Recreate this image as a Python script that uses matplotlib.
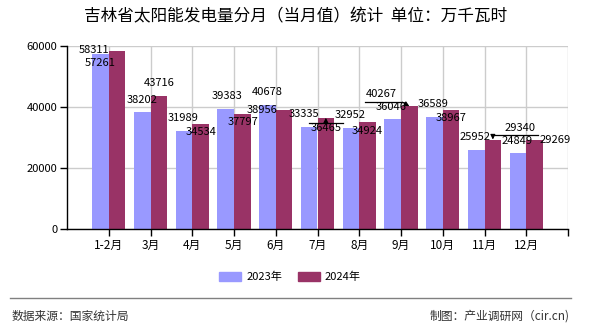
import matplotlib
matplotlib.use("Agg")
import matplotlib.pyplot as plt
import numpy as np
from matplotlib.lines import Line2D
from matplotlib.patches import Patch
from matplotlib.transforms import IdentityTransform

plt.rcParams['font.family'] = ['Noto Sans CJK SC', 'DejaVu Sans']

# ---- data ----
categories = ['1-2月', '3月', '4月', '5月', '6月', '7月', '8月', '9月', '10月', '11月', '12月']
series_names = ['2023年', '2024年']
values_2023 = [57261, 38202, 31989, 39383, 40678, 33335, 32952, 36046, 36589, 25952, 24849]
values_2024 = [58311, 43716, 34534, 37797, 38956, 36465, 34924, 40267, 38967, 29340, 29269]
yticks = [0, 20000, 40000, 60000]

# label offsets (pixels) from bar top centre, as arranged in the reference
off_2023 = [(0, -9), (0, 12), (-1, 13), (1, 13), (0, 13), (-5, 13), (-1, 13),
            (-1, 12), (-1, 13), (-1, 13), (-1, 12)]
off_2024 = [(-23, 1), (0, 13), (0, -8), (1, -8), (-22, 0), (0, -10), (0, -9),
            (-28, 12), (0, -8), (27, 12), (21, 0)]
# leader lines: index in 2024 series -> (line dy, x from, x to) relative pixels
leaders_2024 = {5: (-5, -17, 17), 7: (4, -44, -7), 9: (5, 0, 45)}

c2023 = '#9999FF'
c2024 = '#993366'

W, H = 590, 330
fig = plt.figure(figsize=(W / 100, H / 100), dpi=100)
ax = fig.add_axes([67 / W, 1 - 229 / H, (568 - 67) / W, (229 - 46) / H])

x = np.arange(len(categories))
bw = 0.4
ax.bar(x - bw / 2, values_2023, width=bw, color=c2023, zorder=2)
ax.bar(x + bw / 2, values_2024, width=bw, color=c2024, zorder=2)

ax.set_xlim(-1, len(categories))
ax.set_ylim(0, 60000)
ax.set_yticks(yticks)
ax.set_yticklabels([str(v) for v in yticks], fontsize=8)
ax.set_xticks(list(x) + [len(categories)])
ax.set_xticklabels(categories + [''], fontsize=8.5)
ax.tick_params(axis='both', length=5, width=1, color='black', pad=2)
ax.grid(True, color='#cccccc', linewidth=1, zorder=0)
ax.set_axisbelow(True)
for s in ['top', 'right']:
    ax.spines[s].set_visible(False)
for s in ['left', 'bottom']:
    ax.spines[s].set_color('black')
    ax.spines[s].set_linewidth(1)

fig.canvas.draw()

def place(xc, val, off):
    ax.annotate(f'{val}', xy=(xc, val), xytext=off, textcoords='offset pixels',
                ha='center', va='center', fontsize=8, color='black', zorder=5)

for i, v in enumerate(values_2023):
    place(x[i] - bw / 2, v, off_2023[i])
for i, v in enumerate(values_2024):
    place(x[i] + bw / 2, v, off_2024[i])

for i, (ldy, lx0, lx1) in leaders_2024.items():
    px, py = ax.transData.transform((x[i] + bw / 2, values_2024[i]))
    fig.add_artist(Line2D([px + lx0, px + lx1], [py + ldy, py + ldy],
                          transform=IdentityTransform(), color='black', lw=0.9, zorder=6))
    sx = px if lx0 <= 0 <= lx1 else (px + lx1 if lx1 < 0 else px + lx0)
    ax.annotate('', xy=(px, py), xycoords='figure pixels',
                xytext=(sx, py + ldy), textcoords='figure pixels',
                arrowprops=dict(arrowstyle='-|>', color='black', lw=0.8,
                                mutation_scale=7, shrinkA=0, shrinkB=0), zorder=6)

# title
fig.text(296 / W, 1 - 17 / H, '吉林省太阳能发电量分月（当月值）统计  单位：万千瓦时',
         ha='center', va='center', fontsize=12, color='black')

# legend
handles = [Patch(color=c2023), Patch(color=c2024)]
fig.legend(handles, series_names, loc='center', bbox_to_anchor=(290 / W, 1 - 277 / H),
           ncol=2, frameon=False, fontsize=8, handlelength=2.0, handleheight=0.9,
           handletextpad=0.45, columnspacing=1.4)

# footer
fig.add_artist(Line2D([10 / W, 571 / W], [1 - 298 / H, 1 - 298 / H],
                      transform=fig.transFigure, color='#808080', lw=1))
fig.text(12 / W, 1 - 316 / H, '数据来源：国家统计局', ha='left', va='center',
         fontsize=8.5, color='#333333')
fig.text(570 / W, 1 - 316 / H, '制图：产业调研网（cir.cn)', ha='right', va='center',
         fontsize=8.5, color='#333333')

fig.savefig('out.png', dpi=100)
